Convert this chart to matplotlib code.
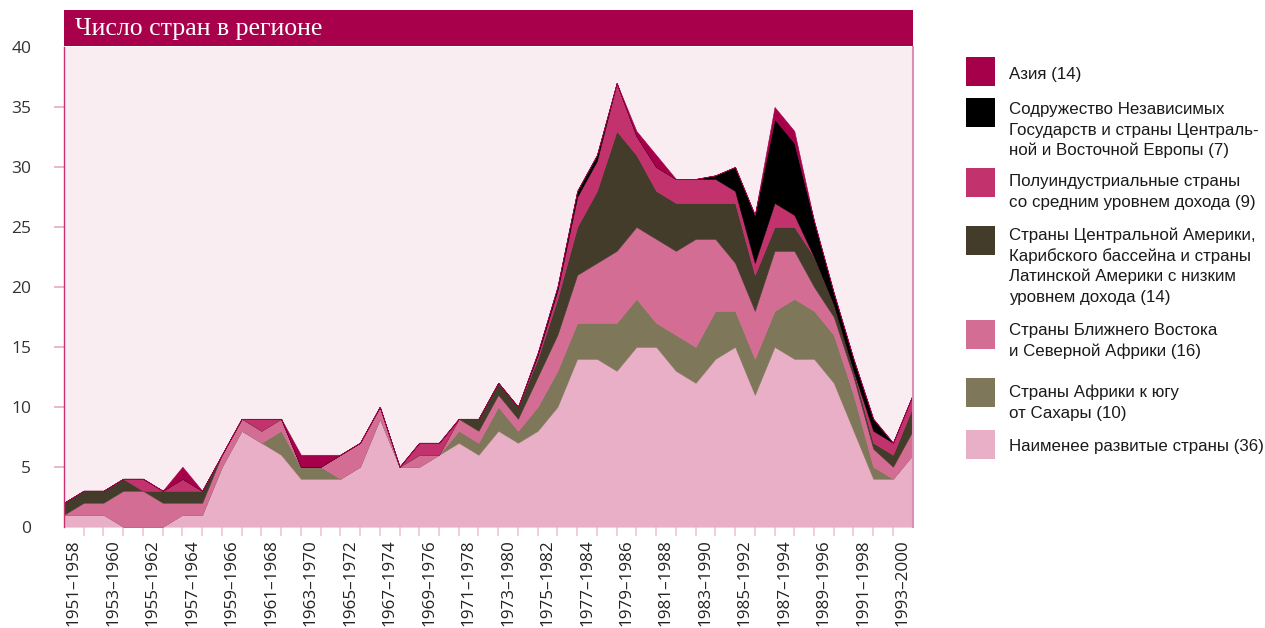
import numpy as np
import matplotlib
matplotlib.use("Agg")
import matplotlib.pyplot as plt
from matplotlib.patches import Rectangle

# ---- data -------------------------------------------------------------
period_labels = ["1951–1958", "1953–1960", "1955–1962", "1957–1964", "1959–1966",
                 "1961–1968", "1963–1970", "1965–1972", "1967–1974", "1969–1976",
                 "1971–1978", "1973–1980", "1975–1982", "1977–1984", "1979–1986",
                 "1981–1988", "1983–1990", "1985–1992", "1987–1994", "1989–1996",
                 "1991–1998", "1993–2000"]

least_developed = [1, 1, 1, 0, 0, 0, 1, 1, 5, 8,
                   7, 6, 4, 4, 4, 5, 9, 5, 5, 6,
                   7, 6, 8, 7, 8, 10, 14, 14, 13, 15,
                   15, 13, 12, 14, 15, 11, 15, 14, 14, 12,
                   8, 4, 4, 6]
sub_saharan = [0, 0, 0, 0, 0, 0, 0, 0, 0, 0,
               0, 2, 1, 1, 0, 0, 0, 0, 0, 0,
               1, 1, 2, 1, 2, 3, 3, 3, 4, 4,
               2, 3, 3, 4, 3, 3, 3, 5, 4, 4,
               3, 1, 0, 0]
middle_east = [0, 1, 1, 3, 3, 2, 1, 1, 1, 1,
               1, 1, 0, 0, 2, 2, 1, 0, 1, 0,
               1, 1, 1, 1, 2.5, 3, 4, 5, 6, 6,
               7, 7, 9, 6, 4, 4, 5, 4, 2, 1.5,
               1.5, 1.5, 1, 2]
latin_america = [1, 1, 1, 1, 0, 1, 1, 1, 0, 0,
                 0, 0, 0, 0, 0, 0, 0, 0, 0, 0,
                 0, 1, 1, 1, 1.5, 3, 4, 6, 10, 6,
                 4, 4, 3, 3, 5, 3, 2, 2, 2.5, 1,
                 0.5, 0.5, 1, 2]
semi_industrial = [0, 0, 0, 0, 1, 0, 1, 0, 0, 0,
                   1, 0, 0, 0, 0, 0, 0, 0, 1, 1,
                   0, 0, 0, 0, 0.3, 0.7, 2.5, 2.5, 4, 1.6,
                   2, 2, 2, 2, 1, 1, 2, 1, 0, 0,
                   0, 1, 1, 1]
cis_cee = [0, 0, 0, 0, 0, 0, 0, 0, 0, 0,
           0, 0, 0, 0, 0, 0, 0, 0, 0, 0,
           0, 0, 0, 0, 0.2, 0.3, 0.5, 0.5, 0, 0,
           0, 0, 0, 0.3, 2, 4, 7, 6, 3, 1,
           1, 1, 0, 0]
asia = [0, 0, 0, 0, 0, 0, 1, 0, 0, 0,
        0, 0, 1, 1, 0, 0, 0, 0, 0, 0,
        0, 0, 0, 0, 0, 0, 0, 0, 0, 0.4,
        1, 0, 0, 0, 0, 0, 1, 1, 0, 0,
        0, 0, 0, 0]

series = [least_developed, sub_saharan, middle_east, latin_america,
          semi_industrial, cis_cee, asia]
colors = ["#e8afc6", "#7f775a", "#d36d94", "#433c2a", "#c2326c", "#000000", "#a6004a"]

legend_labels = [
    "Азия (14)",
    "Содружество Независимых\nГосударств и страны Централь-\nной и Восточной Европы (7)",
    "Полуиндустриальные страны\nсо средним уровнем дохода (9)",
    "Страны Центральной Америки,\nКарибского бассейна и страны\nЛатинской Америки с низким\nуровнем дохода (14)",
    "Страны Ближнего Востока\nи Северной Африки (16)",
    "Страны Африки к югу\nот Сахары (10)",
    "Наименее развитые страны (36)",
]
legend_colors = ["#a6004a", "#000000", "#c2326c", "#433c2a", "#d36d94", "#7f775a", "#e8afc6"]

# ---- figure -----------------------------------------------------------
W, H = 1265, 628
fig = plt.figure(figsize=(W / 100, H / 100), dpi=100)
fig.patch.set_facecolor("white")

ax_l, ax_r, ax_t, ax_b = 64, 912.7, 47, 526.7
ax = fig.add_axes([ax_l / W, 1 - ax_b / H, (ax_r - ax_l) / W, (ax_b - ax_t) / H])
ax.set_facecolor("#f9edf2")

x = np.arange(len(least_developed))
base = np.zeros(len(x))
for vals, c in zip(series, colors):
    v = np.asarray(vals, dtype=float)
    ax.fill_between(x, base, base + v, facecolor=c, edgecolor=c, linewidth=0.4, zorder=2)
    base = base + v

ax.set_xlim(0, len(x) - 1)
ax.set_ylim(0, 40)

# y axis
ax.set_yticks(np.arange(0, 41, 5))
ax.tick_params(axis="y", length=7.5, width=1.2, color="#eaa9c3", pad=16,
               labelsize=12.5, labelcolor="#333333")
yt = ax.yaxis.get_major_ticks()
yt[0].tick1line.set_visible(False)
yt[-1].tick1line.set_visible(False)
for lab in ax.get_yticklabels():
    lab.set_fontfamily("Open Sans")

# x axis
ax.set_xticks(np.arange(0.5, len(x) - 1, 2))
ax.set_xticklabels(period_labels, rotation=90, fontsize=12.3, color="#222222",
                   fontfamily="Open Sans", va="top")
ax.tick_params(axis="x", which="major", length=0, pad=9)
ax.set_xticks(np.arange(1, len(x) - 1), minor=True)
ax.tick_params(axis="x", which="minor", length=6.5, width=1.2, color="#f2c2d4")

for s in ["top", "bottom"]:
    ax.spines[s].set_visible(False)
ax.spines["left"].set_color("#c8306e")
ax.spines["left"].set_linewidth(1.0)
ax.spines["right"].set_color("#dc8fb0")
ax.spines["right"].set_linewidth(1.5)

# title bar
fig.patches.append(Rectangle((ax_l / W, 1 - 46 / H), (ax_r - ax_l) / W, 36 / H,
                             transform=fig.transFigure, facecolor="#a8004b",
                             edgecolor="none", zorder=5))
fig.text(75 / W, 1 - 34.5 / H, "Число стран в регионе", color="white",
         fontsize=18.5, fontfamily="Liberation Serif", va="baseline", ha="left", zorder=6)

# legend
sq_tops = [57, 98, 168, 226, 320, 378, 430]
first_line = [73, 108, 180, 234, 329, 391, 445]
line_gap = 20.7
for lab, c, top, fl in zip(legend_labels, legend_colors, sq_tops, first_line):
    fig.patches.append(Rectangle((966 / W, 1 - (top + 29) / H), 29 / W, 29 / H,
                                 transform=fig.transFigure, facecolor=c,
                                 edgecolor="none"))
    for i, line in enumerate(lab.split("\n")):
        yc = fl + i * line_gap
        fig.text(1009 / W, 1 - (yc + 6) / H, line, fontsize=12.2,
                 fontfamily="Liberation Sans", color="#1a1a1a",
                 va="baseline", ha="left")

fig.savefig("out.png", dpi=100)
